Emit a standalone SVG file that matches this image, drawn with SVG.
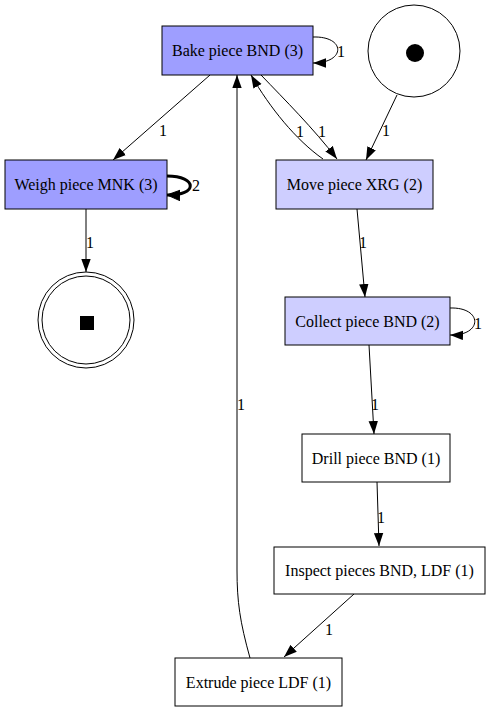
<svg xmlns="http://www.w3.org/2000/svg" width="490" height="712" viewBox="0 0 490 712">
<style>
text{font-family:"Liberation Serif","Times New Roman",serif;font-size:16px;fill:#000}
.n text{text-anchor:middle}
.box{stroke:#000;stroke-width:1}
.dark{fill:#9e9eff}
.light{fill:#ceceff}
.white{fill:#fff}
.e{fill:none;stroke:#000;stroke-width:1}
.thick{stroke-width:3}
</style>
<defs>
<marker id="ah" markerUnits="userSpaceOnUse" markerWidth="13" markerHeight="10" refX="13" refY="5" orient="auto" viewBox="0 0 13 10">
<path d="M0,0.3 L13,5 L0,9.7 z" fill="#000"/>
</marker>
<marker id="ahb" markerUnits="userSpaceOnUse" markerWidth="14" markerHeight="12" refX="13" refY="6" orient="auto" viewBox="0 0 14 12">
<path d="M0,0.8 L13,6 L0,11.2 z" fill="#000" stroke="#000" stroke-width="1"/>
</marker>
</defs>
<rect width="490" height="712" fill="#fff"/>
<g id="edges">
<path class="e" d="M210,75 L113,160" marker-end="url(#ah)"/>
<text x="159" y="136">1</text>
<path class="e" d="M313,37 C346,36 346,63 313,63" marker-end="url(#ah)"/>
<text x="337" y="57">1</text>
<path class="e thick" d="M167,176 C198,176 198,196 167,195" marker-end="url(#ahb)"/>
<text x="192" y="191">2</text>
<path class="e" d="M86,209 L86,272" marker-end="url(#ah)"/>
<text x="86" y="248">1</text>
<path class="e" d="M397,95 L366,160" marker-end="url(#ah)"/>
<text x="382" y="136">1</text>
<path class="e" d="M323,159 C296,140 270,108 251,75" marker-end="url(#ah)"/>
<text x="296" y="137">1</text>
<path class="e" d="M261,75 C285,100 313,128 337,159" marker-end="url(#ah)"/>
<text x="318" y="137">1</text>
<path class="e" d="M357,209 L365,297" marker-end="url(#ah)"/>
<text x="359" y="248">1</text>
<path class="e" d="M450,308 C483,307 483,336 450,335" marker-end="url(#ah)"/>
<text x="474" y="329">1</text>
<path class="e" d="M369,345 L374,434" marker-end="url(#ah)"/>
<text x="371" y="410">1</text>
<path class="e" d="M377,482 L379,546" marker-end="url(#ah)"/>
<text x="377" y="523">1</text>
<path class="e" d="M354,594 L284,657" marker-end="url(#ah)"/>
<text x="325" y="635">1</text>
<path class="e" d="M250,658 C240,622 237,602 237,570 L237,75" marker-end="url(#ah)"/>
<text x="237" y="410">1</text>
</g>
<g id="start" class="n">
<circle cx="414" cy="51" r="46" fill="#fff" stroke="#000"/>
<circle cx="415" cy="53" r="9" fill="#000"/>
</g>
<g id="end" class="n">
<circle cx="86" cy="320" r="48" fill="#fff" stroke="#000"/>
<circle cx="86" cy="320" r="44" fill="none" stroke="#000"/>
<rect x="80" y="316" width="14" height="14" fill="#000"/>
</g>
<g id="bake" class="n">
<rect class="box dark" x="162" y="26" width="151" height="49"/>
<text x="237.5" y="56">Bake piece BND (3)</text>
</g>
<g id="weigh" class="n">
<rect class="box dark" x="5" y="160" width="162" height="49"/>
<text x="86" y="190">Weigh piece MNK (3)</text>
</g>
<g id="move" class="n">
<rect class="box light" x="276" y="160" width="157" height="49"/>
<text x="354.5" y="190">Move piece XRG (2)</text>
</g>
<g id="collect" class="n">
<rect class="box light" x="285" y="297" width="165" height="48"/>
<text x="367.5" y="327">Collect piece BND (2)</text>
</g>
<g id="drill" class="n">
<rect class="box white" x="302" y="434" width="148" height="48"/>
<text x="376" y="464">Drill piece BND (1)</text>
</g>
<g id="inspect" class="n">
<rect class="box white" x="274" y="547" width="211" height="47"/>
<text x="379.5" y="576">Inspect pieces BND, LDF (1)</text>
</g>
<g id="extrude" class="n">
<rect class="box white" x="175" y="658" width="167" height="48"/>
<text x="258.5" y="688">Extrude piece LDF (1)</text>
</g>
</svg>
